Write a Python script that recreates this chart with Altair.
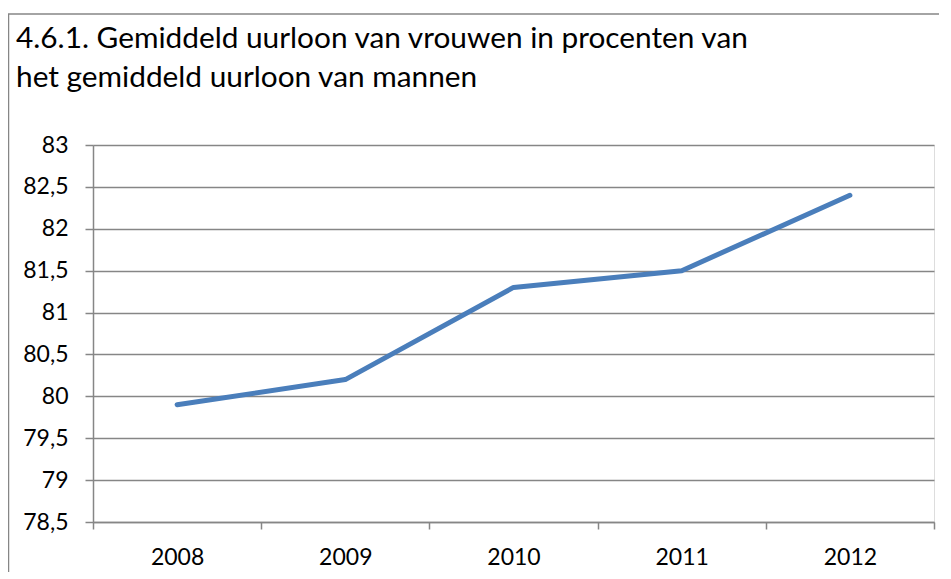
import altair as alt
import pandas as pd

years = ["2008", "2009", "2010", "2011", "2012"]
values = [79.9, 80.2, 81.3, 81.5, 82.4]
y_ticks = [78.5, 79, 79.5, 80, 80.5, 81, 81.5, 82, 82.5, 83]
title_lines = [
    "4.6.1. Gemiddeld uurloon van vrouwen in procenten van",
    "het gemiddeld uurloon van mannen",
]

df = pd.DataFrame({"jaar": years, "waarde": values})

FONT = "Lato"
GRAY = "#868686"
BLUE = "#4a7ebb"

single = alt.Data(values=[{"a": 1}])

border = alt.Chart(single).mark_rect(
    fill="transparent", stroke=GRAY, strokeWidth=1.5
).encode(
    x=alt.value(-84.5), y=alt.value(-131), x2=alt.value(3000), y2=alt.value(3000)
)

title = alt.Chart(single).mark_text(
    text=title_lines, align="left", baseline="alphabetic", font=FONT,
    fontSize=29.8, lineHeight=38.5, color="black",
).encode(x=alt.value(-77), y=alt.value(-97))

line = alt.Chart(df).mark_line(
    color=BLUE, strokeWidth=5, strokeCap="round", strokeJoin="round"
).encode(
    x=alt.X(
        "jaar:O",
        scale=alt.Scale(type="band", paddingInner=0, paddingOuter=0),
        axis=alt.Axis(
            title=None, labelAngle=0, tickBand="extent", ticks=True, tickSize=7,
            tickColor=GRAY, tickWidth=1.5, domainColor=GRAY, domainWidth=1.5,
            labelFontSize=23, labelPadding=17, grid=False, labelFont=FONT,
            labelColor="black",
        ),
    ),
    y=alt.Y(
        "waarde:Q",
        scale=alt.Scale(domain=[78.5, 83], nice=False, zero=False),
        axis=alt.Axis(
            values=y_ticks, title=None, grid=True, gridColor=GRAY, gridWidth=1.5,
            tickColor=GRAY, tickWidth=1.5, tickSize=8, domainColor=GRAY, domainWidth=1.5,
            labelFontSize=23, labelPadding=17, labelFont=FONT, labelColor="black",
            labelExpr="replace(toString(datum.value), '.', ',')",
        ),
    ),
)

chart = alt.layer(border, title, line).properties(
    width=841,
    height=377,
    autosize=alt.AutoSizeParams(type="none"),
    padding={"left": 85, "top": 137, "right": 5, "bottom": 50},
).configure_view(stroke=None).configure(background="white")

chart.save("out.html", embed_options={"renderer": "svg", "actions": False})
